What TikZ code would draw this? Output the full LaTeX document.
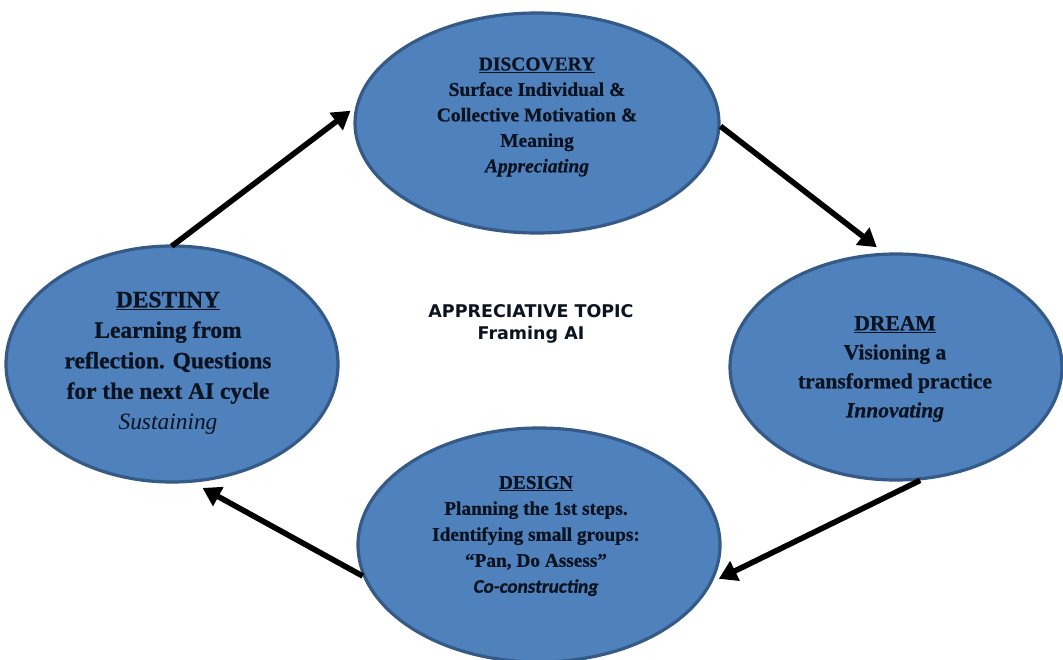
\documentclass[tikz,border=0pt]{standalone}
\usepackage{fontspec}
\setmainfont{Liberation Serif}[BoldFeatures={FakeBold=0.8},BoldItalicFeatures={FakeBold=0.8}]
\newfontfamily\topicfont{DejaVu Sans}
\newfontfamily\calfont{Carlito}[BoldItalicFeatures={FakeBold=0.8}]
\usetikzlibrary{shapes.geometric,arrows.meta}

\definecolor{phasefill}{HTML}{4F81BD}
\definecolor{phaseedge}{HTML}{365A87}
\definecolor{phasetext}{HTML}{0C1320}

\tikzset{
  phase/.style={ellipse, draw=phaseedge, line width=3.2bp, fill=phasefill, inner sep=0pt},
  phasetxt/.style={align=center, text=phasetext, font=\bfseries, inner sep=0pt},
  cyclearrow/.style={line width=5.6bp, draw=black, -{Triangle[length=18bp,width=21bp]}},
}

\begin{document}
\begin{tikzpicture}[x=1bp,y=-1bp]
  \useasboundingbox (0,0) rectangle (1063,660);
  \fill[white] (0,0) rectangle (1063,660);

  % the four phases of the cycle
  \node[phase, minimum width=364bp, minimum height=220bp] (discovery) at (537,123) {};
  \node[phase, minimum width=332bp, minimum height=226bp] (dream)     at (896,367) {};
  \node[phase, minimum width=362bp, minimum height=234bp] (design)    at (539,545) {};
  \node[phase, minimum width=332bp, minimum height=236bp] (destiny)   at (172,364) {};

  % phase texts
  \node[phasetxt, font=\bfseries\fontsize{19.5bp}{25.5bp}\selectfont] (discoverytxt) at (537,117)
    {\underline{DISCOVERY}\\Surface Individual \&\\Collective Motivation \&\\Meaning\\\textit{Appreciating}};
  \node[phasetxt, font=\bfseries\fontsize{21.5bp}{29bp}\selectfont] (dreamtxt) at (895,369)
    {\underline{DREAM}\\Visioning a\\transformed practice\\\textit{Innovating}};
  \node[phasetxt, font=\bfseries\fontsize{19.3bp}{26bp}\selectfont] (designtxt) at (536,536)
    {\underline{DESIGN}\\Planning the 1st steps.\\Identifying small groups:\\``Pan, Do Assess''\\{\calfont\itshape Co-constructing}};
  \node[phasetxt, font=\bfseries\fontsize{23.4bp}{30.5bp}\selectfont] (destinytxt) at (168,363)
    {\underline{DESTINY}\\Learning from\\reflection. Questions\\for the next AI cycle\\{\mdseries\itshape Sustaining}};

  % topic in the middle
  \node[align=center, text=phasetext, font=\topicfont\bfseries\fontsize{17.5bp}{22bp}\selectfont, inner sep=0pt] (topic) at (531,324)
    {APPRECIATIVE TOPIC\\Framing AI};

  % connectors around the cycle
  \draw[cyclearrow, shorten <=-3bp, shorten >=6bp] (destiny.89)  -- (discovery.175);
  \draw[cyclearrow, shorten >=9bp]                 (discovery.-1) -- (dream.96);
  \draw[cyclearrow, shorten >=7bp]                 (dream.-78)   -- (design.-12);
  \draw[cyclearrow, shorten >=11bp]                (design.190)  -- (destiny.-80);
\end{tikzpicture}
\end{document}
